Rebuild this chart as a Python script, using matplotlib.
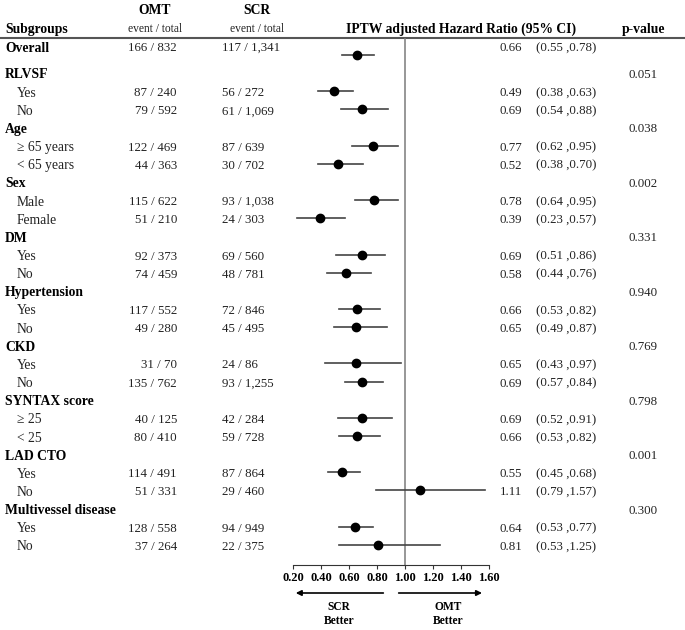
import matplotlib.pyplot as plt

# rows of the forest plot, top to bottom
labels = ["Overall", "RLVSF", "Yes", "No", "Age", "\u2265 65 years", "< 65 years",
          "Sex", "Male", "Female", "DM", "Yes", "No", "Hypertension", "Yes", "No",
          "CKD", "Yes", "No", "SYNTAX score", "\u2265 25", "< 25", "LAD CTO", "Yes", "No",
          "Multivessel disease", "Yes", "No"]
is_header = [True, True, False, False, True, False, False, True, False, False, True, False, False,
             True, False, False, True, False, False, True, False, False, True, False, False,
             True, False, False]
omt = ["166 / 832", "", "87 / 240", "79 / 592", "", "122 / 469", "44 / 363", "", "115 / 622",
       "51 / 210", "", "92 / 373", "74 / 459", "", "117 / 552", "49 / 280", "", "31 / 70",
       "135 / 762", "", "40 / 125", "80 / 410", "", "114 / 491", "51 / 331", "", "128 / 558",
       "37 / 264"]
scr = ["117 / 1,341", "", "56 / 272", "61 / 1,069", "", "87 / 639", "30 / 702", "", "93 / 1,038",
       "24 / 303", "", "69 / 560", "48 / 781", "", "72 / 846", "45 / 495", "", "24 / 86",
       "93 / 1,255", "", "42 / 284", "59 / 728", "", "87 / 864", "29 / 460", "", "94 / 949",
       "22 / 375"]
hr = [0.66, None, 0.49, 0.69, None, 0.77, 0.52, None, 0.78, 0.39, None, 0.69, 0.58, None,
      0.66, 0.65, None, 0.65, 0.69, None, 0.69, 0.66, None, 0.55, 1.11, None, 0.64, 0.81]
lo = [0.55, None, 0.38, 0.54, None, 0.62, 0.38, None, 0.64, 0.23, None, 0.51, 0.44, None,
      0.53, 0.49, None, 0.43, 0.57, None, 0.52, 0.53, None, 0.45, 0.79, None, 0.53, 0.53]
hi = [0.78, None, 0.63, 0.88, None, 0.95, 0.70, None, 0.95, 0.57, None, 0.86, 0.76, None,
      0.82, 0.87, None, 0.97, 0.84, None, 0.91, 0.82, None, 0.68, 1.57, None, 0.77, 1.25]
pval = ["", "0.051", "", "", "0.038", "", "", "0.002", "", "", "0.331", "", "", "0.940", "", "",
        "0.769", "", "", "0.798", "", "", "0.001", "", "", "0.300", "", ""]
xticks = [0.2, 0.4, 0.6, 0.8, 1.0, 1.2, 1.4, 1.6]

W, H = 685, 630
fig = plt.figure(figsize=(W / 100, H / 100), dpi=100)
plt.rcParams['font.family'] = ['Liberation Serif', 'DejaVu Serif']

# row y positions in pixels (Overall sits a bit higher than the rest)
ys = [48] + [75 + 18.15 * (i - 1) for i in range(1, len(labels))]

ax = fig.add_axes([0, 0, 1, 1])
ax.set_xlim(0, W)
ax.set_ylim(H, 0)
ax.axis('off')

fs = 9.8
nfs = 9.3
txt = '#222222'
ax.text(155, 10, "OMT", ha='center', va='center', fontsize=fs, fontweight='bold')
ax.text(257, 10, "SCR", ha='center', va='center', fontsize=fs, fontweight='bold')
ax.text(155, 29, "event / total", ha='center', va='center', fontsize=8.3, color=txt)
ax.text(257, 29, "event / total", ha='center', va='center', fontsize=8.3, color=txt)
ax.text(5, 30, "Subgroups", ha='left', va='center', fontsize=fs, fontweight='bold')
ax.text(461, 29, "IPTW adjusted Hazard Ratio (95% CI)", ha='center', va='center',
        fontsize=fs, fontweight='bold')
ax.text(644, 29, "p-value", ha='center', va='center', fontsize=fs, fontweight='bold')
ax.plot([0, W], [38, 38], color='#555555', lw=1.5)

for i, y in enumerate(ys):
    if is_header[i]:
        ax.text(5, y, labels[i], ha='left', va='center', fontsize=fs, fontweight='bold')
    else:
        ax.text(17, y, labels[i], ha='left', va='center', fontsize=fs, color=txt)
    if omt[i]:
        ax.text(177, y, omt[i], ha='right', va='center', fontsize=nfs, color=txt)
        ax.text(222, y, scr[i], ha='left', va='center', fontsize=nfs, color=txt)
    if hr[i] is not None:
        ax.text(522, y, f"{hr[i]:.2f}", ha='right', va='center', fontsize=nfs, color=txt)
        ax.text(536, y, f"({lo[i]:.2f} ,{hi[i]:.2f})", ha='left', va='center', fontsize=nfs,
                color=txt)
    if pval[i]:
        ax.text(643, y, pval[i], ha='center', va='center', fontsize=nfs, color=txt)

# forest panel: x in HR units, y in pixel rows
top, bottom = 38, 565
left, right = 293, 489
fa = fig.add_axes([left / W, 1 - bottom / H, (right - left) / W, (bottom - top) / H])
fa.set_xlim(0.2, 1.6)
fa.set_ylim(bottom, top)
fa.patch.set_alpha(0)
for s in ['top', 'right', 'left']:
    fa.spines[s].set_visible(False)
fa.spines['bottom'].set_color('#333333')
fa.set_yticks([])
fa.set_xticks(xticks)
fa.set_xticklabels([f"{t:.2f}" for t in xticks], fontsize=9, fontweight='bold')
fa.tick_params(axis='x', length=3, color='#333333', pad=2)
fa.axvline(1.0, color='#7a7a7a', lw=1.1)

for i, y in enumerate(ys):
    if hr[i] is None:
        continue
    my = y + 7 if i == 0 else y - 2
    fa.plot([lo[i], hi[i]], [my, my], color='#444444', lw=1.2)
    fa.plot(hr[i], my, 'o', color='black', ms=6)

# direction arrows below the axis
arr = dict(arrowstyle='-|>', color='black', lw=1.2, mutation_scale=8)
fa.annotate("", xy=(0.2, 593), xytext=(0.865, 593), xycoords='data', annotation_clip=False,
            arrowprops=arr)
fa.annotate("", xy=(1.57, 593), xytext=(0.935, 593), xycoords='data', annotation_clip=False,
            arrowprops=arr)
fa.text(0.53, 614, "SCR\nBetter", ha='center', va='center', fontsize=8.3, fontweight='bold',
        linespacing=1.15, clip_on=False)
fa.text(1.31, 614, "OMT\nBetter", ha='center', va='center', fontsize=8.3, fontweight='bold',
        linespacing=1.15, clip_on=False)

fig.savefig("out.png", dpi=100)
